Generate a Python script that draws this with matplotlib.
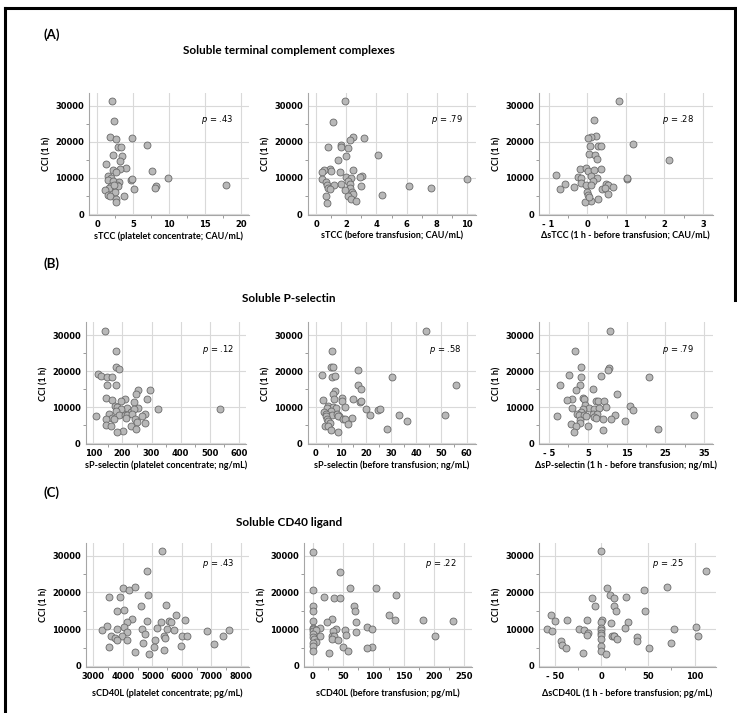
import matplotlib
matplotlib.use("Agg")
import matplotlib.pyplot as plt
from matplotlib.ticker import MultipleLocator, FixedLocator, FuncFormatter
from matplotlib.lines import Line2D

# ---------------- data ----------------
a1_x = [2.0, 2.28, 1.81, 2.6, 4.88, 6.88, 2.93, 3.35, 2.14, 3.49, 3.2, 1.26, 4.0, 3.16, 2.14, 2.6, 7.63,
        1.53, 1.86, 9.9, 4.65, 4.88, 1.53, 2.23, 3.07, 17.86, 8.19, 8.05, 1.95, 2.7, 2.93, 1.63, 1.12, 5.16,
        2.42, 1.49, 1.81, 3.77, 2.6, 2.65, 2.33]
a1_y = [31290, 25660, 21230, 20680, 21040, 19200, 18650, 18460, 16250, 16150, 14770, 13750, 12650, 12370,
        12180, 11720, 11900, 10520, 9880, 9880, 9500, 9780, 9410, 9140, 8950, 8030, 7850, 7200, 7750, 8030,
        7850, 7100, 6650, 6830, 6090, 5350, 4980, 4980, 4060, 3230, 8030]

a2_x = [1.94, 1.10, 2.47, 3.16, 2.23, 1.68, 0.79, 1.66, 2.14, 4.11, 2.01, 1.46, 0.95, 2.47, 1.61, 1.02, 0.51,
        0.42, 1.96, 2.30, 3.02, 2.89, 0.42, 10.0, 2.10, 0.66, 1.63, 0.73, 1.21, 2.27, 3.0, 6.16, 0.82, 0.91,
        2.23, 7.64, 1.94, 2.41, 2.45, 4.37, 0.68, 2.1, 2.34, 2.63, 0.73]
a2_y = [31200, 25570, 21230, 21040, 20490, 19010, 18650, 18460, 18370, 16250, 16060, 14860, 12550, 12280,
        11720, 11900, 12090, 11540, 10150, 9880, 10430, 10250, 9600, 9600, 9230, 8770, 8310, 8030, 8030,
        8210, 7850, 7850, 7290, 6830, 7100, 7100, 6740, 6090, 5630, 5350, 4890, 4890, 4060, 3510, 3140]

a3_x = [0.83, 0.18, 0.22, 0.09, 0.03, 1.18, 0.07, 0.28, 0.36, 0.05, 0.19, 0.24, 2.13, -0.19, -0.02, 0.36,
        0.03, 0.17, -0.80, -0.24, -0.16, 0.09, 0.24, 1.02, 1.03, 0.15, -0.15, -0.58, -0.03, 0.09, 0.48,
        0.53, -0.34, 0.67, -0.71, 0.39, 0.45, 0.0, 0.03, 0.54, 0.28, 0.09, -0.05, 0.05]
a3_y = [31300, 25900, 21600, 21220, 20940, 19350, 18890, 18700, 18790, 16550, 16360, 15150, 14960, 12530,
        12720, 12530, 11870, 12060, 10750, 10290, 9910, 10470, 10000, 9820, 10000, 9260, 8510, 8230, 8130,
        7950, 8320, 8040, 7390, 7390, 6830, 6920, 7110, 6080, 5140, 5520, 4110, 3650, 3370, 4580]

b1_x = [141, 179, 179, 187, 115, 126, 146, 163, 148, 179, 253, 296, 246, 142, 164, 208, 194, 285, 241, 176,
        182, 217, 253, 322, 535, 195, 177, 230, 241, 153, 189, 210, 217, 233, 278, 267, 110, 212, 163, 171,
        145, 244, 249, 276, 142, 162, 229, 246, 201, 182]
b1_y = [31200, 25570, 21230, 20580, 19100, 18650, 18370, 18370, 16150, 16060, 14680, 14860, 13660, 12550,
        11900, 12180, 11720, 12280, 11350, 10250, 9970, 9690, 9690, 9410, 9410, 9410, 8950, 8770, 9510,
        8120, 7850, 7850, 7850, 8030, 8030, 7660, 7570, 7110, 6920, 6650, 6650, 6740, 6000, 5540, 5170,
        4800, 4800, 3880, 3510, 3050]

b2_x = [44.0, 6.5, 6.1, 6.8, 16.7, 2.6, 6.4, 7.5, 30.3, 55.6, 16.8, 17.9, 7.5, 6.9, 10.6, 15.0, 7.4, 3.0,
        17.4, 18.0, 10.6, 11.7, 5.0, 6.8, 4.5, 7.9, 20.0, 24.9, 25.7, 3.3, 6.0, 4.2, 6.5, 8.5, 9.3, 33.1,
        51.5, 21.7, 4.1, 8.9, 14.6, 4.5, 10.7, 11.5, 4.9, 36.4, 5.8, 12.8, 3.8, 5.0, 28.5, 6.2, 8.7]
b2_y = [31090, 25490, 21090, 21280, 20450, 18980, 18340, 18520, 18340, 16230, 16050, 14950, 14580, 13660,
        12650, 12290, 12200, 12010, 11550, 11740, 11650, 10090, 10360, 10180, 9900, 9720, 9450, 9350, 9540,
        8800, 8890, 8160, 7890, 8070, 7700, 7980, 7980, 7790, 7430, 7430, 7150, 6790, 6790, 6690, 6140,
        6050, 5500, 5320, 4860, 4860, 3940, 3580, 3120]

b3_x = [10.7, 1.6, 3.2, 10.4, 10.1, 0.1, 3.2, 8.5, 20.7, -2.1, 3.1, 6.3, 2.0, 3.8, 4.1, 12.5, 0.8, -0.5,
        7.1, 7.7, 9.2, 4.3, 9.8, 15.9, 1.0, 5.4, 3.8, 6.5, 7.8, 16.6, 3.2, 2.1, 2.8, 4.1, 6.2, 7.3, 12.1,
        32.5, -3.0, 4.4, 6.5, 7.0, 8.8, 11.0, 3.1, 0.6, 2.9, 5.0, 1.9, 14.5, 23.2, 9.0, 1.4]
b3_y = [31100, 25480, 21230, 20860, 20400, 19010, 18370, 18550, 18370, 16060, 16250, 14950, 14680, 12550,
        12280, 13660, 12280, 12000, 11720, 11630, 11810, 10610, 10150, 10250, 9780, 9690, 9410, 9510, 9690,
        9320, 8680, 8030, 7850, 7850, 8030, 8030, 7850, 7850, 7660, 7660, 7200, 7110, 6740, 6830, 6460,
        5260, 5540, 4890, 4800, 6090, 3970, 3690, 3140]

c1_x = [5330, 4830, 4000, 4200, 4400, 4840, 3530, 3900, 4600, 5450, 3790, 4050, 5790, 4300, 4140, 4810,
        5290, 5570, 5620, 6100, 4050, 3280, 3450, 3790, 4650, 5170, 5500, 5740, 6840, 7580, 4750, 4150,
        3610, 3720, 3960, 5400, 5430, 6000, 6170, 7380, 3810, 4150, 4690, 5070, 7080, 5970, 3530, 5050,
        5400, 4410, 4900]
c1_y = [31260, 25730, 21200, 20750, 21470, 19300, 18750, 18660, 16310, 16490, 14950, 15130, 13950, 12680,
        11960, 12320, 12050, 12320, 12050, 12500, 10510, 9880, 10780, 9970, 9970, 10330, 9970, 9790, 9600,
        9790, 8610, 9150, 8150, 7520, 8060, 8240, 7700, 8060, 8060, 8150, 7070, 6980, 6340, 7070, 5890,
        5530, 5070, 5070, 4260, 3800, 3350]

c2_x = [0, 45.6, 0, 62, 105, 138, 18, 34.6, 44.5, 0, 68.7, 0, 70.3, 126, 136, 31.3, 23.6, 182, 232, 0,
        70.9, 0, 12.6, 90, 0, 38.5, 53.3, 97, 0, 5, 33, 70.9, 0, 0, 12, 31.3, 34.6, 54.4, 202, 1.6, 31.3,
        5, 41.8, 0, 49.5, 0, 97, 89, 0, 58.8, 27.5]
c2_y = [30990, 25550, 20570, 21290, 21110, 19210, 18660, 18570, 18570, 16400, 16220, 15040, 14860, 13860,
        12500, 12680, 11870, 12410, 12320, 12140, 11870, 10420, 10420, 10690, 10060, 9970, 9780, 9970, 9600,
        9780, 9510, 9150, 8610, 7970, 8060, 8060, 8060, 8340, 8060, 7430, 7340, 6430, 7070, 6160, 5160,
        5440, 5250, 4980, 4170, 3990, 3530]

c3_x = [0, 112, 70, 6.5, 46, 9.7, -10, 13.3, 26, -6.8, 14, 16, 47, -54, -50, -37, -15, 1.1, 0, 10.8, 28,
        25.5, -58, -53, -24, -19, 0, 0, 78, 102, -14, 0, -15, 0, 11, 13, 13, 38, 104, 17, 0, -43, 38, 75,
        -42, 0, -38, 51, 0, -20, 5.4]
c3_y = [31280, 25720, 21430, 21160, 20610, 19240, 18510, 18600, 18700, 16230, 16320, 14960, 14860, 13860,
        12220, 12490, 12580, 12400, 11860, 11760, 11860, 10310, 9940, 9580, 9940, 9670, 10310, 9760, 9940,
        10580, 8940, 9030, 8300, 8300, 8030, 8210, 8120, 7840, 8030, 7300, 7390, 6750, 6930, 6200, 5750,
        5560, 5020, 5020, 4100, 3650, 3190]

p_values = [".43", ".79", ".28", ".12", ".58", ".79", ".43", ".22", ".25"]
x_labels = ["sTCC (platelet concentrate; CAU/mL)",
            "sTCC (before transfusion; CAU/mL)",
            "\u0394sTCC (1 h - before transfusion; CAU/mL)",
            "sP-selectin (platelet concentrate; ng/mL)",
            "sP-selectin (before transfusion; ng/mL)",
            "\u0394sP-selectin (1 h - before transfusion; ng/mL)",
            "sCD40L (platelet concentrate; pg/mL)",
            "sCD40L (before transfusion; pg/mL)",
            "\u0394sCD40L (1 h - before transfusion; pg/mL)"]
y_label = "CCI (1 h)"
section_letters = ["(A)", "(B)", "(C)"]
section_titles = ["Soluble terminal complement complexes", "Soluble P-selectin", "Soluble CD40 ligand"]
y_ticks = [0, 10000, 20000, 30000]

xs = [a1_x, a2_x, a3_x, b1_x, b2_x, b3_x, c1_x, c2_x, c3_x]
ys = [a1_y, a2_y, a3_y, b1_y, b2_y, b3_y, c1_y, c2_y, c3_y]

# ---------------- layout (pixels) ----------------
W, H = 737, 713
fig = plt.figure(figsize=(W / 100, H / 100), dpi=100)

rows_tb = [(93, 215.1), (322.4, 444.4), (542.8, 667.1)]
cols_lr = [[(89, 249), (307.7, 475.7), (539, 712.7)],
           [(85.7, 246), (307.7, 475.7), (539, 712.7)],
           [(86, 249), (304, 471.7), (539, 716)]]
xlims = [(-1.15, 21.1), (-0.55, 10.57), (-1.25, 3.25),
         (74, 624), (-3.2, 63.6), (-7.6, 37.2),
         (2750, 8270), (-14.3, 262), (-67, 123)]
xmajor = [[0, 5, 10, 15, 20], [0, 2, 4, 6, 8, 10], [-1, 0, 1, 2, 3],
          [100, 200, 300, 400, 500, 600], [0, 10, 20, 30, 40, 50, 60], [-5, 5, 15, 25, 35],
          [3000, 4000, 5000, 6000, 7000, 8000], [0, 50, 100, 150, 200, 250], [-50, 0, 50, 100]]
xminor = [2.5, 1, 0.5, 50, 5, 5, 500, 25, 25]
pxy = [(0.8, 0.78), (0.83, 0.78), (0.8, 0.78),
       (0.825, 0.78), (0.816, 0.78), (0.80, 0.78),
       (0.81, 0.83), (0.817, 0.83), (0.73, 0.83)]

grid_c = "#d9d9d9"
spine_c = "#a6a6a6"
face_c = "#b8b8b8"
edge_c = "#6a6a6a"


def fmt_neg(v, pos=None):
    if v < 0:
        return "- %g" % abs(v)
    return "%g" % v


label_font = dict(family="Lato", weight="bold", size=6.5)

for i in range(9):
    r, c = divmod(i, 3)
    top, bot = rows_tb[r]
    left, right = cols_lr[r][c]
    ax = fig.add_axes([left / W, 1 - bot / H, (right - left) / W, (bot - top) / H])
    ax.scatter(xs[i], ys[i], s=25, facecolor=face_c, edgecolor=edge_c, linewidth=0.6, zorder=3,
               clip_on=False)
    ax.set_xlim(*xlims[i])
    ax.set_ylim(-300, 33500)
    ax.xaxis.set_major_locator(FixedLocator(xmajor[i]))
    ax.xaxis.set_minor_locator(MultipleLocator(xminor[i]))
    ax.xaxis.set_major_formatter(FuncFormatter(fmt_neg))
    ax.yaxis.set_major_locator(FixedLocator(y_ticks))
    ax.yaxis.set_minor_locator(MultipleLocator(5000))
    ax.grid(True, which="major", color=grid_c, linewidth=0.8, zorder=0)
    ax.set_axisbelow(True)
    for s in ["top", "right"]:
        ax.spines[s].set_visible(False)
    for s in ["left", "bottom"]:
        ax.spines[s].set_color(spine_c)
        ax.spines[s].set_linewidth(0.8)
    ax.tick_params(which="major", length=0, pad=3.5, labelsize=6, labelcolor="black")
    ax.tick_params(which="minor", length=2.5, width=0.6, color="#8a8a8a")
    for lab in ax.get_xticklabels() + ax.get_yticklabels():
        lab.set_fontweight("bold")
        lab.set_family("DejaVu Sans")
    ax.text(pxy[i][0], pxy[i][1], r"$\it{p}$ = " + p_values[i], transform=ax.transAxes,
            ha="center", va="center", fontsize=6, family="DejaVu Sans")
    # x label
    ylab_off = [21, 21, 26][r]
    fig.text((left + right) / 2 / W, 1 - (bot + ylab_off) / H, x_labels[i], ha="center", va="center",
             **label_font)
    # y label
    fig.text((left - 42) / W, 1 - ((top + bot) / 2) / H, y_label, ha="center", va="center",
             rotation=90, **label_font)

# section headers
letter_y = [35, 264, 493]
title_y = [50, 298, 523]
for k in range(3):
    fig.text(43 / W, 1 - letter_y[k] / H, section_letters[k], ha="left", va="center",
             family="Lato", weight="bold", size=9.5)
    fig.text(289 / W, 1 - title_y[k] / H, section_titles[k], ha="center", va="center",
             family="Lato", weight="bold", size=8.5)

# page border
fig.add_artist(Line2D([4.5 / W, 4.5 / W], [0, 1 - 7.5 / H], color="black", linewidth=2.2,
                      transform=fig.transFigure))
fig.add_artist(Line2D([4.5 / W, 734.5 / W], [1 - 7.5 / H, 1 - 7.5 / H], color="black", linewidth=2.2,
                      transform=fig.transFigure))
fig.add_artist(Line2D([734.5 / W, 734.5 / W], [1 - 7.5 / H, 1 - 300 / H], color="black", linewidth=2.2,
                      transform=fig.transFigure))

fig.savefig("out.png", dpi=100)
